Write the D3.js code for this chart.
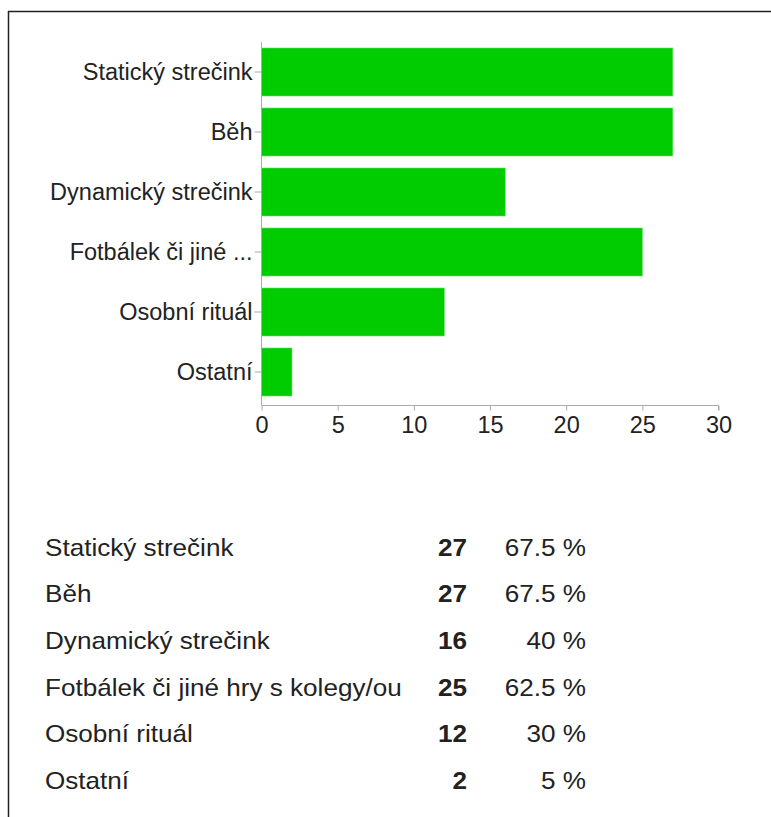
<!DOCTYPE html>
<html>
<head>
<meta charset="utf-8">
<script src="https://cdn.jsdelivr.net/npm/d3@7"></script>
<style>
  html, body { margin: 0; padding: 0; background: #fff; }
  svg { display: block; }
  text { font-family: "Liberation Sans", Arial, sans-serif; fill: #222; }
</style>
</head>
<body>
<svg id="chart" width="771" height="817"></svg>
<script>
const categories = ["Statický strečink", "Běh", "Dynamický strečink", "Fotbálek či jiné hry s kolegy/ou", "Osobní rituál", "Ostatní"];
const axisLabels = ["Statický strečink", "Běh", "Dynamický strečink", "Fotbálek či jiné ...", "Osobní rituál", "Ostatní"];
const counts = [27, 27, 16, 25, 12, 2];
const percents = ["67.5 %", "67.5 %", "40 %", "62.5 %", "30 %", "5 %"];
const xTicks = [0, 5, 10, 15, 20, 25, 30];

const svg = d3.select("#chart");

// frame (left + top lines)
svg.append("line").attr("x1", 8.5).attr("x2", 8.5).attr("y1", 11).attr("y2", 817)
  .attr("stroke", "#222").attr("stroke-width", 1.5);
svg.append("line").attr("x1", 8).attr("x2", 771).attr("y1", 11.5).attr("y2", 11.5)
  .attr("stroke", "#222").attr("stroke-width", 1.5);

const x = d3.scaleLinear().domain([0, 30]).range([261.5, 718.5]);
const y = d3.scaleBand().domain(categories).range([42, 402]).paddingInner(0.2).paddingOuter(0.1);

// bars
svg.append("g").selectAll("rect").data(categories).join("rect")
  .attr("x", x(0))
  .attr("y", d => y(d))
  .attr("width", (d, i) => x(counts[i]) - x(0))
  .attr("height", y.bandwidth())
  .attr("fill", "#00cc00")
  .attr("stroke", "#66dd66")
  .attr("stroke-width", 0.6);

const fontSize = "23.5px";

// y axis
const yAxis = d3.axisLeft(y)
  .tickSize(7).tickPadding(2)
  .tickFormat((d, i) => axisLabels[i]);
const gy = svg.append("g").attr("transform", `translate(${x(0)},0)`).call(yAxis);
gy.select(".domain").remove();
gy.append("line").attr("x1", 0).attr("x2", 0).attr("y1", 42).attr("y2", 405).attr("stroke", "#aaa").attr("stroke-width", 1);
gy.selectAll(".tick line").attr("stroke", "#aaa");
gy.selectAll(".tick text").style("font-size", fontSize).attr("fill", "#222").style("font-family", "'Liberation Sans', Arial, sans-serif");

// x axis
const xAxis = d3.axisBottom(x).tickValues(xTicks).tickSize(5).tickPadding(6).tickFormat(d3.format("d"));
const gx = svg.append("g").attr("transform", `translate(0,405.5)`).call(xAxis);
gx.select(".domain").attr("stroke", "#aaa").attr("d", `M${x(0)},0H${x(30)}V5`);
gx.selectAll(".tick line").attr("stroke", "#aaa");
gx.selectAll(".tick text").style("font-size", fontSize).attr("fill", "#222").style("font-family", "'Liberation Sans', Arial, sans-serif");

// table
const rowY = d3.scalePoint().domain(categories).range([555.5, 789]);
const sx = 1.07;
const tbl = svg.append("g");
categories.forEach((c, i) => {
  const yy = rowY(c);
  tbl.append("text").attr("transform", `translate(45,${yy}) scale(${sx},1)`)
    .style("font-size", "24.4px").text(c);
  tbl.append("text").attr("transform", `translate(467,${yy}) scale(${sx},1)`)
    .attr("text-anchor", "end").style("font-size", "24.4px").style("font-weight", "bold").text(counts[i]);
  tbl.append("text").attr("transform", `translate(586,${yy}) scale(${sx},1)`)
    .attr("text-anchor", "end").style("font-size", "24.4px").text(percents[i]);
});
</script>
</body>
</html>
